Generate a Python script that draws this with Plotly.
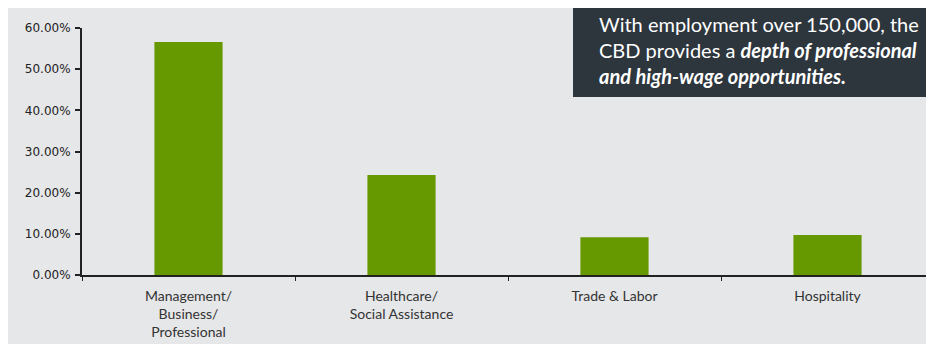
import plotly.graph_objects as go

categories = ["Management/<br>Business/<br>Professional", "Healthcare/<br>Social Assistance", "Trade & Labor", "Hospitality"]
shares = [0.566, 0.243, 0.092, 0.097]
y_ticks = [0, 0.1, 0.2, 0.3, 0.4, 0.5, 0.6]

BG = "#e6e7e9"
OFF = 8  # page offset of the figure in the browser
W, H = 934 - OFF, 344 - OFF
L, R, T, B = 82 - OFF, 0, 28 - OFF, 344 - 275
pw, ph = W - L - R, H - T - B

def px(x):
    return (x - OFF - L) / pw

def py(y):
    return (H - B - (y - OFF)) / ph

fig = go.Figure(go.Bar(
    x=categories, y=shares, width=0.32,
    marker=dict(color="#669900", line=dict(width=0)),
))

fig.update_layout(
    width=W, height=H,
    margin=dict(l=L, r=R, t=T, b=B, pad=0),
    paper_bgcolor=BG, plot_bgcolor=BG,
    showlegend=False,
    xaxis=dict(
        range=[-0.5, 3.5], showgrid=False, zeroline=False,
        showline=True, linecolor="#222", linewidth=2,
        ticks="outside", tickson="boundaries", ticklen=4, tickcolor="#222", tickwidth=1,
        ticklabelstandoff=7,
        tickfont=dict(family="Lato", size=14, color="#333"),
    ),
    yaxis=dict(
        range=[0, 0.6], tickvals=y_ticks, tickformat=".2%",
        showgrid=False, zeroline=False,
        showline=True, linecolor="#222", linewidth=2,
        ticks="outside", ticklen=5, tickcolor="#222", tickwidth=1.5,
        ticklabelstandoff=2,
        tickfont=dict(family="DejaVu Sans", size=12, color="#222"),
    ),
    shapes=[
        dict(type="rect", xref="paper", yref="paper", x0=px(573), x1=px(940), y0=py(97), y1=py(0),
             fillcolor="#2d353d", line=dict(width=0), layer="above"),
    ],
    annotations=[
        dict(
            xref="paper", yref="paper", x=px(597), y=py(50), xanchor="left", yanchor="middle",
            align="left", showarrow=False,
            text="With employment over 150,000, the<br>CBD provides a <b><i>depth of professional</i></b><br><b><i>and high-wage opportunities.</i></b>",
            font=dict(family="Lato", size=20, color="white"),
        )
    ],
)

fig.write_html("out.html")
